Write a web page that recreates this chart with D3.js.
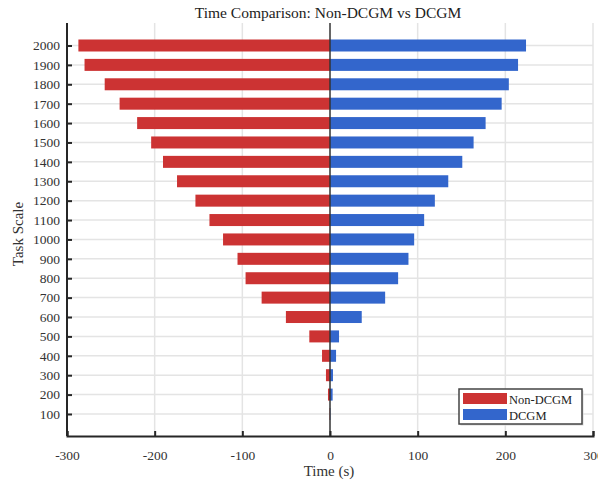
<!DOCTYPE html>
<html>
<head>
<meta charset="utf-8">
<script src="https://cdn.jsdelivr.net/npm/d3@7"></script>
<style>
  body { margin: 0; background: #fff; }
  svg { display: block; font-family: "Liberation Serif", "DejaVu Serif", serif; }
</style>
</head>
<body>
<svg id="chart" width="598" height="484"></svg>
<script>
// Task scales and measured times (seconds)
const taskScale = [100, 200, 300, 400, 500, 600, 700, 800, 900, 1000,
                   1100, 1200, 1300, 1400, 1500, 1600, 1700, 1800, 1900, 2000];
const nonDcgmTime = [0.5, 2.3, 4.6, 9.1, 23.6, 50.3, 78, 96.3, 105.5, 122,
                     137.5, 153.5, 174.5, 190.5, 204, 220, 240, 257, 280, 287];
const dcgmTime = [0.5, 3, 3.4, 6.9, 10.3, 36.2, 62.9, 77.7, 89.5, 96,
                  107.4, 119.6, 134.9, 150.9, 163.8, 177.5, 195.8, 204, 214.5, 223.6];
const xTicks = [-300, -200, -100, 0, 100, 200, 300];
const seriesNames = ["Non-DCGM", "DCGM"];
const seriesColors = ["#cc3333", "#3366cc"];

const svg = d3.select("#chart");
const margin = { left: 67, right: 5, top: 23, bottom: 48 };
const W = 598, H = 484;

const x = d3.scaleLinear().domain([-300, 300]).range([margin.left, W - margin.right]);
const y = d3.scaleLinear().domain([-13.5, 2116]).range([H - margin.bottom, margin.top]);
const barH = 12;

// grid
const grid = svg.append("g").attr("stroke", "#e4e4e4").attr("stroke-width", 1.5);
grid.selectAll("line.h").data(taskScale).join("line")
  .attr("x1", x(-300)).attr("x2", x(300))
  .attr("y1", d => y(d)).attr("y2", d => y(d));
grid.selectAll("line.v").data(xTicks.filter(t => t !== 0 && t !== -300)).join("line")
  .attr("x1", d => x(d)).attr("x2", d => x(d))
  .attr("y1", y.range()[1]).attr("y2", y.range()[0]);

// bars
const rows = taskScale.map((s, i) => ({ s, neg: nonDcgmTime[i], pos: dcgmTime[i] }));
svg.append("g").selectAll("rect").data(rows).join("rect")
  .attr("x", d => x(-d.neg)).attr("width", d => x(0) - x(-d.neg))
  .attr("y", d => y(d.s) - barH / 2).attr("height", barH)
  .attr("fill", seriesColors[0]);
svg.append("g").selectAll("rect").data(rows).join("rect")
  .attr("x", x(0)).attr("width", d => x(d.pos) - x(0))
  .attr("y", d => y(d.s) - barH / 2).attr("height", barH)
  .attr("fill", seriesColors[1]);

// zero line
svg.append("line")
  .attr("x1", x(0)).attr("x2", x(0))
  .attr("y1", y.range()[1]).attr("y2", y.range()[0])
  .attr("stroke", "#333").attr("stroke-width", 1.5);

// axes
const xAxis = d3.axisBottom(x).tickValues(xTicks).tickSize(-5).tickPadding(14)
  .tickFormat(d => String(d));
const gx = svg.append("g").attr("transform", `translate(0,${y.range()[0]})`).call(xAxis);
gx.select(".domain").attr("stroke", "#262626").attr("stroke-width", 2);
gx.selectAll(".tick line").attr("stroke", "#262626").attr("stroke-width", 2);
gx.selectAll(".tick text").attr("font-size", 13.5).attr("fill", "#333")
  .attr("font-family", "Liberation Serif, serif");

const yAxis = d3.axisLeft(y).tickValues(taskScale).tickSize(-5).tickPadding(7)
  .tickFormat(d => String(d));
const gy = svg.append("g").attr("transform", `translate(${x(-300)},0)`).call(yAxis);
gy.select(".domain").attr("stroke", "#262626").attr("stroke-width", 2)
  .attr("d", `M0,${y.range()[1]}V${y.range()[0]}`);
gy.selectAll(".tick line").attr("stroke", "#262626").attr("stroke-width", 2);
gy.selectAll(".tick text").attr("font-size", 13.5).attr("fill", "#333")
  .attr("font-family", "Liberation Serif, serif");

// title and axis labels
svg.append("text").attr("x", 328).attr("y", 18).attr("text-anchor", "middle")
  .attr("font-size", 15.5).attr("fill", "#222").text("Time Comparison: Non-DCGM vs DCGM");
svg.append("text").attr("x", 329).attr("y", 476).attr("text-anchor", "middle")
  .attr("font-size", 15).attr("fill", "#333").text("Time (s)");
svg.append("text").attr("transform", "translate(23,234) rotate(-90)")
  .attr("text-anchor", "middle").attr("font-size", 15).attr("fill", "#333").text("Task Scale");

// legend
const lg = svg.append("g").attr("transform", "translate(459,389)");
lg.append("rect").attr("x", 1.5).attr("y", 1.5).attr("width", 123).attr("height", 35)
  .attr("fill", "#d8d8d8");
lg.append("rect").attr("width", 123).attr("height", 35)
  .attr("fill", "#fff").attr("stroke", "#444").attr("stroke-width", 1.5);
seriesNames.forEach((n, i) => {
  lg.append("rect").attr("x", 4).attr("y", 4 + i * 16).attr("width", 44).attr("height", 11)
    .attr("fill", seriesColors[i]);
  lg.append("text").attr("x", 50).attr("y", 14.5 + i * 16).attr("font-size", 12.5)
    .attr("fill", "#222").text(n);
});
</script>
</body>
</html>
